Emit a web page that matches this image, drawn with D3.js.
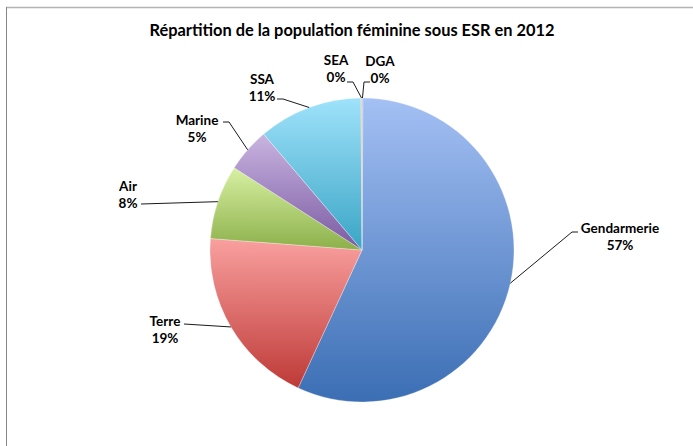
<!DOCTYPE html>
<html>
<head>
<meta charset="utf-8">
<script src="https://cdn.jsdelivr.net/npm/d3@7"></script>
<style>
  body { margin: 0; background: #fff; }
  text { font-family: Lato, "Open Sans", sans-serif; font-weight: bold; fill: #000; }
</style>
</head>
<body>
<div id="chart"></div>
<script>
// Data
var categories = ['DGA', 'Gendarmerie', 'Terre', 'Air', 'Marine', 'SSA', 'SEA'];
var shares = [0.1, 56.8, 19.3, 7.9, 4.7, 11.1, 0.1];

// colours (top, bottom of each slice gradient)
var colTop = {DGA: '#8ea8d8', Gendarmerie: '#a4c0f4', Terre: '#f9a09f', Air: '#d7f0a2', Marine: '#c9b4e0', SSA: '#9fe2fb', SEA: '#fbc08a'};
var colBot = {DGA: '#2c4d7e', Gendarmerie: '#3b6eb4', Terre: '#be3a37', Air: '#8cb04a', Marine: '#7a5aa2', SSA: '#3aa5c5', SEA: '#e07b1e'};

// label layout, relative to pie centre: text centre (lx, ly) and leader end (ax, ay)
var labelPos = {
  Gendarmerie: {lx: 258, ly: -22, ax: 216, ay: -18},
  Terre:       {lx: -197, ly: 71, ax: -178, ay: 74},
  Air:         {lx: -234, ly: -64, ax: -221, ay: -46},
  Marine:      {lx: -165, ly: -130, ax: -139, ay: -128},
  SSA:         {lx: -100, ly: -171, ax: -85, ay: -151},
  SEA:         {lx: -26, ly: -190, ax: -15, ay: -168},
  DGA:         {lx: 18, ly: -189, ax: 8, ay: -168}
};

var width = 693, height = 446;
var cx = 362, cy = 250, r = 152;

var svg = d3.select('#chart').append('svg')
    .attr('width', width)
    .attr('height', height);

// chart frame
svg.append('line').attr('x1', 6).attr('x2', width).attr('y1', 7.5).attr('y2', 7.5)
    .style('stroke', '#b4b4b4').style('stroke-width', 1.6);
svg.append('line').attr('x1', 6.5).attr('x2', 6.5).attr('y1', 7).attr('y2', height)
    .style('stroke', '#868686').style('stroke-width', 1);

svg.append('text')
    .attr('x', 352)
    .attr('y', 36)
    .attr('text-anchor', 'middle')
    .style('font-size', '16.4px')
    .text('Répartition de la population féminine sous ESR en 2012');

var data = categories.map(function(c, i) { return {name: c, value: shares[i]}; });
var total = d3.sum(shares);

var pie = d3.pie().sort(null).value(d => d.value);
var arc = d3.arc().innerRadius(0).outerRadius(r);

var defs = svg.append('defs');
categories.forEach(function(c, i) {
  var g = defs.append('linearGradient')
      .attr('id', 'grad' + i)
      .attr('x1', 0).attr('y1', 0).attr('x2', 0).attr('y2', 1);
  g.append('stop').attr('offset', '0%').attr('stop-color', colTop[c]);
  g.append('stop').attr('offset', '100%').attr('stop-color', colBot[c]);
});

var g = svg.append('g').attr('transform', 'translate(' + cx + ',' + cy + ')');

var arcs = pie(data);

g.selectAll('path')
    .data(arcs)
    .enter().append('path')
    .attr('d', arc)
    .style('fill', (d, i) => 'url(#grad' + i + ')')
    .style('stroke', 'rgba(255,255,255,0.5)')
    .style('stroke-width', 0.6);

// leader lines
g.selectAll('polyline')
    .data(arcs)
    .enter().append('polyline')
    .attr('points', function(d) {
      var a = (d.startAngle + d.endAngle) / 2;
      var p = labelPos[d.data.name];
      var sx = r * Math.sin(a), sy = -r * Math.cos(a);
      var ex = p.ax + (sx > p.ax ? 6 : -6);
      if (d.data.name === 'Terre' || d.data.name === 'Air') ex = p.ax;
      return [[sx, sy], [ex, p.ay], [p.ax, p.ay]].map(q => q.join(',')).join(' ');
    })
    .style('fill', 'none')
    .style('stroke', '#000')
    .style('stroke-width', 0.9);

// labels
var lab = g.selectAll('text.lab')
    .data(arcs)
    .enter().append('text')
    .attr('class', 'lab')
    .attr('text-anchor', 'middle')
    .style('font-size', '13.5px');

lab.append('tspan')
    .attr('x', d => labelPos[d.data.name].lx)
    .attr('y', d => labelPos[d.data.name].ly + 5)
    .text(d => d.data.name);

lab.append('tspan')
    .attr('x', d => labelPos[d.data.name].lx)
    .attr('y', d => labelPos[d.data.name].ly + 22)
    .text(d => Math.round(d.data.value / total * 100) + '%');
</script>
</body>
</html>
